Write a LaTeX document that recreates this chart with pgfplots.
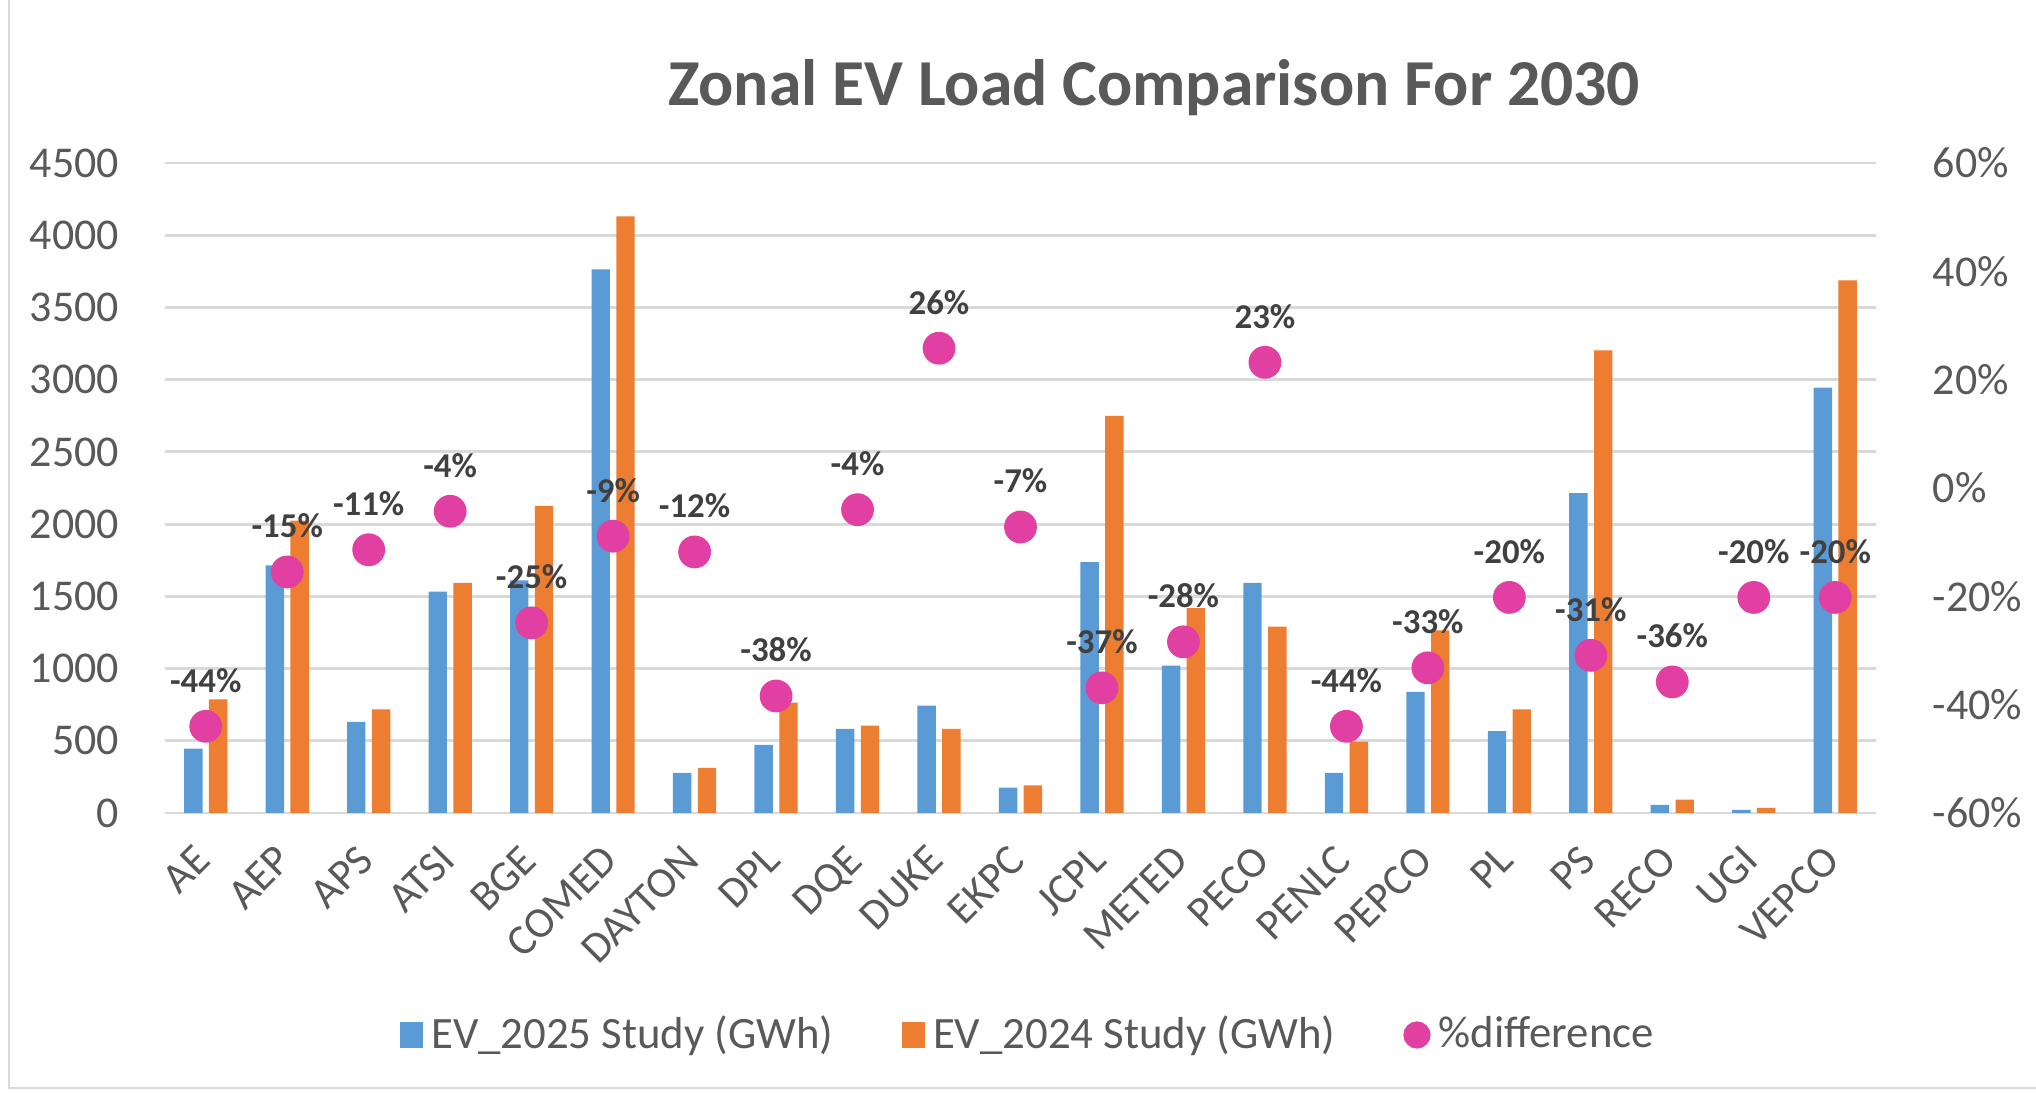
\documentclass[border=0pt]{standalone}
\usepackage{pgfplots}
\pgfplotsset{compat=1.18}
\usepackage{pgfplotstable}
\usepackage{fontspec}
\setmainfont{Carlito}
\definecolor{c1}{RGB}{91,155,213}
\definecolor{c2}{RGB}{237,125,49}
\definecolor{c3}{RGB}{226,63,163}
\definecolor{tickc}{RGB}{89,89,89}
\definecolor{labc}{RGB}{64,64,64}
\definecolor{gridc}{RGB}{217,217,217}
\pgfplotstableread{
x a b
0 446 787
1 1715 2025
2 631 717
3 1533 1594
4 1610 2126
5 3764 4130
6 277 312
7 472 765
8 583 605
9 743 583
10 175 191
11 1737 2750
12 1020 1418
13 1594 1291
14 277 494
15 838 1265
16 567 717
17 2215 3203
18 57 92
19 22 35
20 2945 3687
}\bars
\pgfplotstableread{
x p lab
0 -44.0 -44
1 -15.5 -15
2 -11.4 -11
3 -4.3 -4
4 -24.9 -25
5 -8.9 -9
6 -11.8 -12
7 -38.4 -38
8 -4.0 -4
9 25.8 26
10 -7.2 -7
11 -36.9 -37
12 -28.4 -28
13 23.2 23
14 -44.0 -44
15 -33.2 -33
16 -20.2 -20
17 -30.9 -31
18 -35.8 -36
19 -20.2 -20
20 -20.2 -20
}\pct
\begin{document}
\begin{tikzpicture}
\path[use as bounding box] (0,0) rectangle (509pt,273.25pt);
\draw[gridc, line width=0.6pt] (2.2pt,1.3pt) rectangle (515pt,275pt);
\node[font=\fontsize{16.4}{19}\selectfont\bfseries, text=tickc] at (288.5pt,251.25pt) {Zonal EV Load Comparison For 2030};
\begin{axis}[
  at={(41.25pt,70pt)}, anchor=south west, scale only axis,
  width=427.75pt, height=162.5pt,
  xmin=-0.5, xmax=20.5, ymin=0, ymax=4500,
  ytick={0,500,...,4500},
  xtick={0,...,20},
  xticklabels={AE,AEP,APS,ATSI,BGE,COMED,DAYTON,DPL,DQE,DUKE,EKPC,JCPL,METED,PECO,PENLC,PEPCO,PL,PS,RECO,UGI,VEPCO},
  xticklabel style={anchor=north east, inner sep=0pt, xshift=-3.3pt, yshift=-7.3pt, rotate=45, font=\fontsize{10.8}{12}\selectfont, text=tickc},
  yticklabel style={anchor=east, inner sep=0pt, xshift=-11.25pt, font=\fontsize{11}{13}\selectfont, text=tickc},
  /pgf/number format/1000 sep={},
  /pgf/number format/assume math mode=true,
  major tick length=0pt,
  axis line style={draw=none},
  ymajorgrids, grid style={gridc, line width=0.7pt},
  ybar=1.6pt, bar width=4.6pt,
]
\addplot[fill=c1, draw=none] table[x=x,y=a]{\bars};
\addplot[fill=c2, draw=none] table[x=x,y=b]{\bars};
\end{axis}
\begin{axis}[
  at={(41.25pt,70pt)}, anchor=south west, scale only axis,
  width=427.75pt, height=162.5pt,
  xmin=-0.5, xmax=20.5, ymin=-60, ymax=60,
  axis x line=none, axis y line*=right,
  axis line style={draw=none},
  ytick={-60,-40,...,60},
  yticklabel={\pgfmathprintnumber{\tick}\%},
  yticklabel style={anchor=west, inner sep=0pt, xshift=14pt, font=\fontsize{11}{13}\selectfont, text=tickc},
  /pgf/number format/assume math mode=true,
  major tick length=0pt,
  clip=false,
  legend columns=3,
  legend style={at={(axis description cs:0.506,-0.3415)}, anchor=center, draw=none, fill=none,
    font=\fontsize{11.2}{13}\selectfont, text=tickc,
    /tikz/every even column/.append style={column sep=15pt}},
]
\addlegendimage{legend image code/.code={\fill[c1] (0pt,-3pt) rectangle (5.5pt,3pt);}}
\addlegendentry{EV\_2025 Study (GWh)}
\addlegendimage{legend image code/.code={\fill[c2] (0pt,-3pt) rectangle (5.5pt,3pt);}}
\addlegendentry{EV\_2024 Study (GWh)}
\addplot[only marks, mark=*, mark size=3.9pt, color=c3,
  legend image code/.code={\fill[c3] (3.2pt,0pt) circle (3.2pt);},
  point meta=explicit symbolic,
  nodes near coords={\pgfplotspointmeta\%},
  nodes near coords align=center,
  every node near coord/.append style={yshift=11.5pt, inner sep=0pt, text=labc, font=\fontsize{8.7}{10}\selectfont\bfseries}]
  table[x=x,y=p,meta=lab]{\pct};
\addlegendentry{\%difference}
\end{axis}
\end{tikzpicture}
\end{document}
